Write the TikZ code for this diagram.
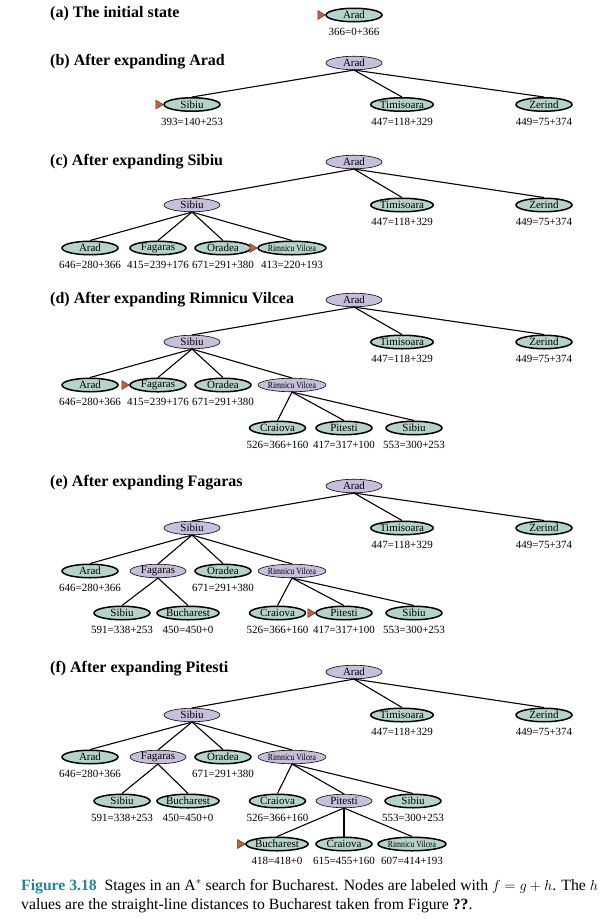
\documentclass[tikz,border=0pt]{standalone}
\usepackage{fontspec}
\usepackage{graphicx}
\setmainfont{Liberation Serif}
\usetikzlibrary{shapes.geometric}
\definecolor{expc}{RGB}{200,190,220}
\definecolor{frc}{RGB}{180,212,200}
\definecolor{mkc}{RGB}{200,90,55}
\definecolor{capc}{RGB}{30,135,150}
\tikzset{
 nbase/.style={ellipse, minimum width=56pt, minimum height=13.5pt, inner sep=0pt, font=\fontsize{11}{11}\selectfont},
 exn/.style={nbase, draw, line width=0.6pt, fill=expc},
 frn/.style={nbase, draw, line width=1.5pt, fill=frc},
 lbl/.style={font=\fontsize{11}{11}\selectfont, inner sep=0pt},
 edge/.style={line width=1.1pt},
 mkst/.style={draw=black!80, line width=0.4pt, fill=mkc},
 ttl/.style={font=\fontsize{16}{17}\selectfont\bfseries, anchor=base west, inner sep=0pt},
 capst/.style={font=\fontsize{15.7}{17}\selectfont, anchor=base west, inner sep=0pt},
}
\newcommand{\enode}[4]{\node[exn] (#1) at (#2,#3) {#4};}
\newcommand{\fnode}[5]{\node[frn] (#1) at (#2,#3) {#4}; \node[lbl] (#1l) at (#2,#3+17) {#5};}
\newcommand{\mkr}[1]{\draw[mkst] (#1.west) -- ++(-7.5,-4.5) -- ++(0,9) -- cycle;}
\newcommand{\ed}[2]{\draw[edge] (#1.south) -- (#2.north);}
\newcommand{\rv}{\scalebox{0.7}[0.85]{Rimnicu Vilcea}}
\begin{document}
\begin{tikzpicture}[x=1pt,y=-1pt]
\useasboundingbox (0,0) rectangle (612,919);
% (a)
\node[ttl] (ta) at (50,17) {(a) The initial state};
\fnode{a0}{354}{15}{Arad}{366=0+366}
\mkr{a0}
% (b)
\node[ttl] (tb) at (50,65) {(b) After expanding Arad};
\enode{b0}{354}{63}{Arad}
\fnode{b1}{192}{104.5}{Sibiu}{393=140+253}
\fnode{b2}{402}{104.5}{Timisoara}{447=118+329}
\fnode{b3}{544}{104.5}{Zerind}{449=75+374}
\ed{b0}{b1}\ed{b0}{b2}\ed{b0}{b3}
\mkr{b1}
% (c)
\node[ttl] (tc) at (50,165) {(c) After expanding Sibiu};
\enode{c0}{354}{162}{Arad}
\enode{c1}{192}{205}{Sibiu}
\fnode{c2}{402}{205}{Timisoara}{447=118+329}
\fnode{c3}{544}{205}{Zerind}{449=75+374}
\fnode{c4}{90}{248}{Arad}{646=280+366}
\fnode{c5}{158}{248}{Fagaras}{415=239+176}
\fnode{c6}{223}{248}{Oradea}{671=291+380}
\fnode{c7}{292}{248}{\rv}{413=220+193}
\ed{c0}{c1}\ed{c0}{c2}\ed{c0}{c3}
\ed{c1}{c4}\ed{c1}{c5}\ed{c1}{c6}\ed{c1}{c7}
\mkr{c7}
% (d)
\node[ttl] (td) at (50,303) {(d) After expanding Rimnicu Vilcea};
\enode{d0}{354}{300}{Arad}
\enode{d1}{192}{342}{Sibiu}
\fnode{d2}{402}{342}{Timisoara}{447=118+329}
\fnode{d3}{544}{342}{Zerind}{449=75+374}
\fnode{d4}{90}{385}{Arad}{646=280+366}
\fnode{d5}{158}{385}{Fagaras}{415=239+176}
\fnode{d6}{223}{385}{Oradea}{671=291+380}
\enode{d7}{292}{385}{\rv}
\fnode{d8}{277.5}{428}{Craiova}{526=366+160}
\fnode{d9}{344}{428}{Pitesti}{417=317+100}
\fnode{d10}{414}{428}{Sibiu}{553=300+253}
\ed{d0}{d1}\ed{d0}{d2}\ed{d0}{d3}
\ed{d1}{d4}\ed{d1}{d5}\ed{d1}{d6}\ed{d1}{d7}
\ed{d7}{d8}\ed{d7}{d9}\ed{d7}{d10}
\mkr{d5}
% (e)
\node[ttl] (te) at (50,486) {(e) After expanding Fagaras};
\enode{e0}{354}{486}{Arad}
\enode{e1}{192}{528}{Sibiu}
\fnode{e2}{402}{528}{Timisoara}{447=118+329}
\fnode{e3}{544}{528}{Zerind}{449=75+374}
\fnode{e4}{90}{571}{Arad}{646=280+366}
\enode{e5}{158}{571}{Fagaras}
\fnode{e6}{223}{571}{Oradea}{671=291+380}
\enode{e7}{292}{571}{\rv}
\fnode{e8}{122}{613}{Sibiu}{591=338+253}
\fnode{e9}{188}{613}{Bucharest}{450=450+0}
\fnode{e10}{277.5}{613}{Craiova}{526=366+160}
\fnode{e11}{344}{613}{Pitesti}{417=317+100}
\fnode{e12}{414}{613}{Sibiu}{553=300+253}
\ed{e0}{e1}\ed{e0}{e2}\ed{e0}{e3}
\ed{e1}{e4}\ed{e1}{e5}\ed{e1}{e6}\ed{e1}{e7}
\ed{e5}{e8}\ed{e5}{e9}
\ed{e7}{e10}\ed{e7}{e11}\ed{e7}{e12}
\mkr{e11}
% (f)
\node[ttl] (tf) at (50,672) {(f) After expanding Pitesti};
\enode{f0}{354}{672}{Arad}
\enode{f1}{192}{715}{Sibiu}
\fnode{f2}{402}{715}{Timisoara}{447=118+329}
\fnode{f3}{544}{715}{Zerind}{449=75+374}
\fnode{f4}{90}{757}{Arad}{646=280+366}
\enode{f5}{158}{757}{Fagaras}
\fnode{f6}{223}{757}{Oradea}{671=291+380}
\enode{f7}{292}{757}{\rv}
\fnode{f8}{122}{801}{Sibiu}{591=338+253}
\fnode{f9}{188}{801}{Bucharest}{450=450+0}
\fnode{f10}{277.5}{801}{Craiova}{526=366+160}
\enode{f11}{344}{801}{Pitesti}
\fnode{f12}{413}{801}{Sibiu}{553=300+253}
\fnode{f13}{277}{844}{Bucharest}{418=418+0}
\fnode{f14}{344}{844}{Craiova}{615=455+160}
\fnode{f15}{412}{844}{\rv}{607=414+193}
\ed{f0}{f1}\ed{f0}{f2}\ed{f0}{f3}
\ed{f1}{f4}\ed{f1}{f5}\ed{f1}{f6}\ed{f1}{f7}
\ed{f5}{f8}\ed{f5}{f9}
\ed{f7}{f10}\ed{f7}{f11}\ed{f7}{f12}
\ed{f11}{f13}\ed{f11}{f14}\ed{f11}{f15}
\mkr{f13}
% caption
\node[capst] (cap1) at (21,890) {{\bfseries\color{capc}Figure 3.18}\hspace{0.5em}Stages in an A$^*$ search for Bucharest. Nodes are labeled with $f=g+h$. The $h$};
\node[capst] (cap2) at (21,909) {values are the straight-line distances to Bucharest taken from Figure \textbf{??}.};
\end{tikzpicture}
\end{document}
